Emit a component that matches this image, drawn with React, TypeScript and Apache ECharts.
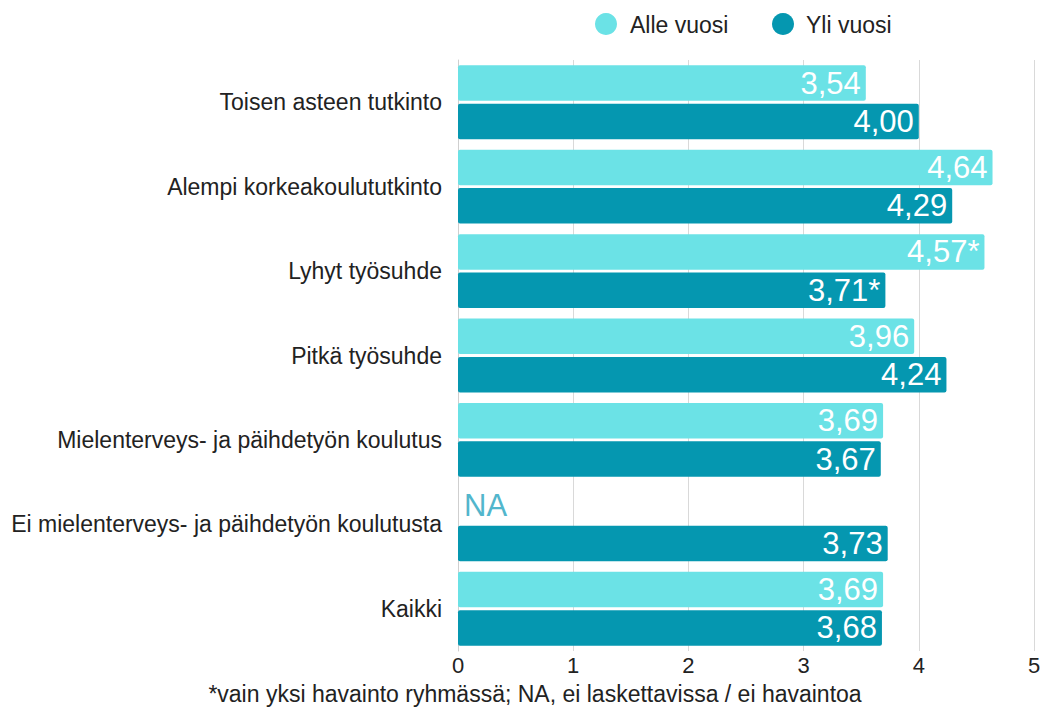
import React, { useEffect, useRef } from "react";
import * as echarts from "echarts";

const categories = [
  "Toisen asteen tutkinto",
  "Alempi korkeakoulututkinto",
  "Lyhyt työsuhde",
  "Pitkä työsuhde",
  "Mielenterveys- ja päihdetyön koulutus",
  "Ei mielenterveys- ja päihdetyön koulutusta",
  "Kaikki",
];
const seriesNames = ["Alle vuosi", "Yli vuosi"];
const alleVuosi: (number | null)[] = [3.54, 4.64, 4.57, 3.96, 3.69, null, 3.69];
const alleSingle = [false, false, true, false, false, false, false];
const yliVuosi: (number | null)[] = [4.0, 4.29, 3.71, 4.24, 3.67, 3.73, 3.68];
const yliSingle = [false, false, true, false, false, false, false];
const xTicks = [0, 1, 2, 3, 4, 5];
const footnote = "*vain yksi havainto ryhmässä; NA, ei laskettavissa / ei havaintoa";

const LIGHT = "#6be2e6";
const DARK = "#0597b0";
const FONT = "'Liberation Sans', Arial, sans-serif";

function fmt(v: number, single: boolean) {
  return v.toFixed(2).replace(".", ",") + (single ? "*" : "");
}

function buildData(values: (number | null)[], single: boolean[]) {
  return values.map((v, i) => {
    if (v === null) {
      return {
        value: 0,
        label: {
          show: true,
          position: "right",
          distance: 6,
          formatter: "NA",
          color: "#52b6cc",
          fontSize: 31,
        },
      };
    }
    return {
      value: v,
      label: { formatter: fmt(v, single[i]) },
    };
  });
}

export default function App() {
  const ref = useRef<HTMLDivElement>(null);
  useEffect(() => {
    if (!ref.current) return;
    const chart = echarts.init(ref.current, undefined, { renderer: "svg" });
    const labelCommon = {
      show: true,
      position: "insideRight",
      distance: 5,
      color: "#ffffff",
      fontSize: 31,
      fontFamily: FONT,
    };
    chart.setOption({
      animation: false,
      textStyle: { fontFamily: FONT },
      grid: { left: 458, right: 12, top: 60, bottom: 62, containLabel: false },
      xAxis: {
        type: "value",
        min: xTicks[0],
        max: xTicks[xTicks.length - 1],
        interval: 1,
        axisLine: { show: false },
        axisTick: { show: false },
        axisLabel: { fontSize: 22, color: "#222", margin: 3, fontFamily: FONT },
        splitLine: { show: true, lineStyle: { color: "#d9d9d9", width: 1 } },
      },
      yAxis: {
        type: "category",
        inverse: true,
        data: categories,
        axisLine: { show: true, lineStyle: { color: "#cfcfcf", width: 1 } },
        axisTick: { show: false },
        axisLabel: { fontSize: 23, color: "#222", margin: 16, fontFamily: FONT },
      },
      series: [
        {
          name: seriesNames[0],
          type: "bar",
          barWidth: 35.5,
          barGap: "8%",
          itemStyle: { color: LIGHT, borderRadius: 2 },
          label: labelCommon,
          data: buildData(alleVuosi, alleSingle),
        },
        {
          name: seriesNames[1],
          type: "bar",
          barWidth: 35.5,
          itemStyle: { color: DARK, borderRadius: 2 },
          label: labelCommon,
          data: buildData(yliVuosi, yliSingle),
        },
      ],
      graphic: [
        { type: "circle", shape: { cx: 606, cy: 24, r: 11 }, style: { fill: LIGHT } },
        {
          type: "text",
          x: 630,
          y: 25,
          style: { text: seriesNames[0], fontSize: 23, fill: "#222", fontFamily: FONT, verticalAlign: "middle" },
        },
        { type: "circle", shape: { cx: 783, cy: 24, r: 11 }, style: { fill: DARK } },
        {
          type: "text",
          x: 806,
          y: 25,
          style: { text: seriesNames[1], fontSize: 23, fill: "#222", fontFamily: FONT, verticalAlign: "middle" },
        },
        {
          type: "text",
          x: 535,
          y: 694,
          style: {
            text: footnote,
            fontSize: 23,
            fill: "#222",
            fontFamily: FONT,
            align: "center",
            verticalAlign: "middle",
          },
        },
      ],
    });
    return () => chart.dispose();
  }, []);
  return <div ref={ref} style={{ width: 1046, height: 713, position: "absolute", left: 0, top: 0 }} />;
}
